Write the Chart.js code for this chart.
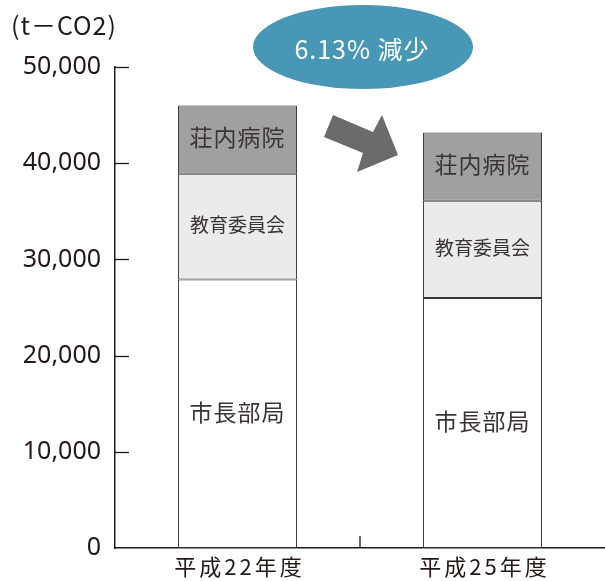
<!DOCTYPE html>
<html>
<head>
<meta charset="utf-8">
<script src="https://cdn.jsdelivr.net/npm/chart.js@4.4.0/dist/chart.umd.min.js"></script>
<style>
  html, body { margin: 0; padding: 0; background: #fff; }
  #wrap { width: 605px; height: 581px; position: relative; }
</style>
</head>
<body>
<div id="wrap"><canvas id="co2-chart"></canvas></div>
<script>
// CO2 emissions by department (t-CO2)
const categories = ['平成22年度', '平成25年度'];
const seriesNames = ['市長部局', '教育委員会', '荘内病院'];
const mayorDept = [27900, 26000];
const education = [11000, 10100];
const hospital = [7100, 7100];
const unitLabel = '(t－CO2)';
const reductionLabel = '6.13% 減少';

const INK = '#231815';

// segment names written inside each stacked bar
const segmentLabels = {
    id: 'segmentLabels',
    afterDatasetsDraw(chart) {
        const ctx = chart.ctx;
        const sizes = [23, 19, 23];
        ctx.save();
        ctx.fillStyle = '#3a3433';
        ctx.textAlign = 'center';
        ctx.textBaseline = 'middle';
        chart.data.datasets.forEach((ds, i) => {
            const meta = chart.getDatasetMeta(i);
            ctx.font = `${sizes[i]}px "Noto Sans CJK JP"`;
            ctx.letterSpacing = i === 1 ? '0px' : '1px';
            meta.data.forEach(bar => {
                const p = bar.getProps(['x', 'y', 'base'], true);
                ctx.fillText(ds.label, p.x, (p.y + p.base) / 2 - 2);
            });
        });
        ctx.restore();
    }
};

// inward tick marks, category labels, unit label, ellipse badge and arrow
const decorations = {
    id: 'decorations',
    afterDraw(chart) {
        const ctx = chart.ctx;
        const yScale = chart.scales.y;
        const xScale = chart.scales.x;
        const area = chart.chartArea;
        ctx.save();

        // y ticks pointing into the plot
        ctx.strokeStyle = INK;
        ctx.lineWidth = 1.3;
        yScale.ticks.forEach(t => {
            if (t.value === 0) return;
            const y = Math.round(yScale.getPixelForValue(t.value)) + 0.5;
            ctx.beginPath();
            ctx.moveTo(area.left, y);
            ctx.lineTo(area.left + 14, y);
            ctx.stroke();
        });

        // divider tick between the two categories
        const mid = (xScale.getPixelForValue(0) + xScale.getPixelForValue(1)) / 2;
        ctx.beginPath();
        ctx.moveTo(mid, area.bottom);
        ctx.lineTo(mid, area.bottom - 12);
        ctx.stroke();

        // category labels (spaced out like the print original)
        ctx.fillStyle = INK;
        ctx.font = '22px "Noto Sans CJK JP"';
        ctx.letterSpacing = '3px';
        ctx.textAlign = 'center';
        ctx.textBaseline = 'middle';
        categories.forEach((c, i) => {
            ctx.fillText(c, xScale.getPixelForTick(i) + 2, area.bottom + 19);
        });

        // unit
        ctx.font = '25px "Noto Sans CJK JP"';
        ctx.letterSpacing = '1px';
        ctx.textAlign = 'left';
        ctx.fillText(unitLabel, 11, 25);

        // ellipse badge
        ctx.fillStyle = '#4897b6';
        ctx.beginPath();
        ctx.ellipse(363, 47, 110, 42, 0, 0, Math.PI * 2);
        ctx.fill();
        ctx.fillStyle = '#ffffff';
        ctx.font = '25px "Noto Sans CJK JP"';
        ctx.letterSpacing = '1px';
        ctx.textAlign = 'center';
        ctx.fillText(reductionLabel, 362, 49);

        // arrow
        ctx.fillStyle = '#6b6b6b';
        ctx.beginPath();
        ctx.moveTo(333, 115);
        ctx.lineTo(373, 132);
        ctx.lineTo(382, 115);
        ctx.lineTo(398, 155);
        ctx.lineTo(357, 172);
        ctx.lineTo(363, 153);
        ctx.lineTo(324, 137);
        ctx.closePath();
        ctx.fill();

        ctx.restore();
    }
};

const barStyle = {
    borderColor: '#3a3433',
    borderWidth: 1,
    borderSkipped: false,
    barPercentage: 0.486,
    categoryPercentage: 1
};

new Chart(document.getElementById('co2-chart'), {
    type: 'bar',
    data: {
        labels: categories,
        datasets: [
            Object.assign({ label: seriesNames[0], data: mayorDept, backgroundColor: '#ffffff' }, barStyle),
            Object.assign({ label: seriesNames[1], data: education, backgroundColor: '#ebebeb' }, barStyle),
            Object.assign({ label: seriesNames[2], data: hospital, backgroundColor: '#a0a0a0' }, barStyle)
        ]
    },
    options: {
        responsive: true,
        maintainAspectRatio: false,
        animation: false,
        layout: {
            padding: { top: 67, right: 0, bottom: 0, left: 0 }
        },
        scales: {
            x: {
                stacked: true,
                grid: { display: false },
                border: { display: true, color: INK, width: 1.5 },
                ticks: { display: false },
                afterFit(scale) { scale.height = 33; }
            },
            y: {
                stacked: true,
                min: 0,
                max: 50000,
                grid: { display: false },
                border: { display: true, color: INK, width: 1.5 },
                ticks: {
                    stepSize: 10000,
                    color: INK,
                    padding: 6,
                    font: { family: '"Noto Sans"', size: 25 },
                    callback: v => v.toLocaleString('en-US')
                },
                afterFit(scale) { scale.width = 115; }
            }
        },
        plugins: {
            legend: { display: false },
            tooltip: { enabled: false }
        }
    },
    plugins: [segmentLabels, decorations]
});
</script>
</body>
</html>
